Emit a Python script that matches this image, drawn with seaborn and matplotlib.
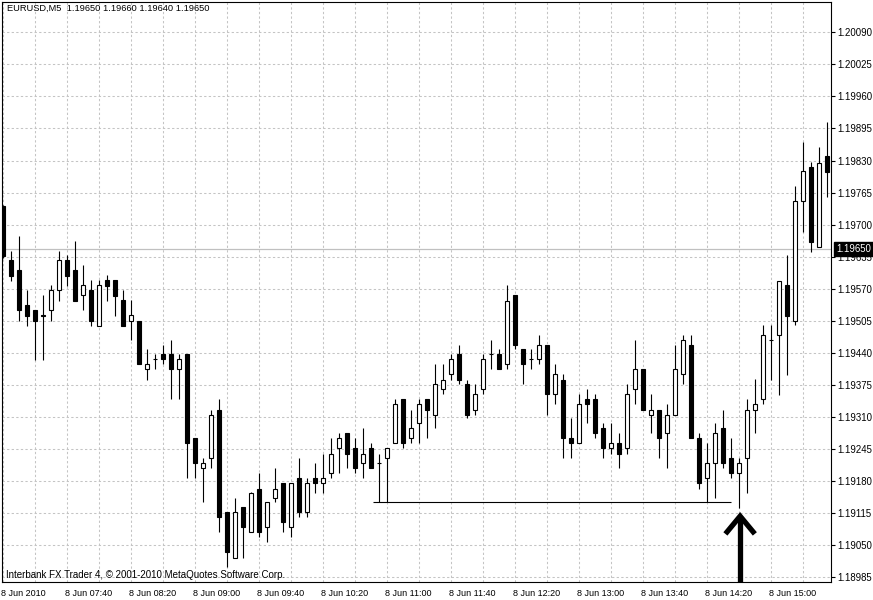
import matplotlib
matplotlib.use("Agg")
import numpy as np
import pandas as pd
import matplotlib.pyplot as plt
import matplotlib.transforms as mtransforms
import seaborn as sns

# header / footer texts
chart_title = "EURUSD,M5  1.19650 1.19660 1.19640 1.19650"
footer_text = "Interbank FX Trader 4, \u00a9 2001-2010 MetaQuotes Software Corp."

# M5 bars (bar 0 = 07:00)
opens = [1.19738, 1.19628, 1.19608, 1.19537, 1.19526, 1.19516, 1.19526, 1.19568, 1.19628, 1.19608,
         1.19557, 1.19568, 1.19495, 1.19588, 1.19588, 1.19547, 1.19505, 1.19505, 1.19407, 1.19427,
         1.19438, 1.19438, 1.19407, 1.19438, 1.19267, 1.19206, 1.19226, 1.19325, 1.19117, 1.19025,
         1.19127, 1.19076, 1.19165, 1.19086, 1.19145, 1.19176, 1.19086, 1.19186, 1.19117, 1.19186,
         1.19176, 1.19196, 1.19247, 1.19277, 1.19247, 1.19216, 1.19247, 1.19216, 1.19226, 1.19257,
         1.19346, 1.19267, 1.19297, 1.19346, 1.19315, 1.19366, 1.19397, 1.19437, 1.19376, 1.19325,
         1.19366, 1.19437, 1.19437, 1.19417, 1.19557, 1.19447, 1.19427, 1.19427, 1.19457, 1.19356,
         1.19386, 1.19267, 1.19257, 1.19346, 1.19346, 1.19287, 1.19247, 1.19257, 1.19247, 1.19366,
         1.19407, 1.19315, 1.19325, 1.19277, 1.19315, 1.19397, 1.19457, 1.19267, 1.19186, 1.19216,
         1.19287, 1.19226, 1.19196, 1.19226, 1.19325, 1.19346, 1.19467, 1.19477, 1.19578, 1.19505,
         1.19748, 1.19816, 1.19655, 1.19839]
highs = [1.19740, 1.19647, 1.19677, 1.19568, 1.19527, 1.19557, 1.19578, 1.19647, 1.19638, 1.19667,
         1.19618, 1.19588, 1.19588, 1.19598, 1.19588, 1.19568, 1.19547, 1.19505, 1.19447, 1.19438,
         1.19457, 1.19467, 1.19438, 1.19438, 1.19267, 1.19226, 1.19325, 1.19346, 1.19117, 1.19145,
         1.19127, 1.19157, 1.19196, 1.19137, 1.19206, 1.19176, 1.19176, 1.19226, 1.19186, 1.19216,
         1.19236, 1.19267, 1.19277, 1.19277, 1.19267, 1.19287, 1.19257, 1.19236, 1.19247, 1.19346,
         1.19346, 1.19325, 1.19346, 1.19346, 1.19417, 1.19417, 1.19437, 1.19457, 1.19386, 1.19376,
         1.19437, 1.19467, 1.19447, 1.19578, 1.19557, 1.19447, 1.19447, 1.19477, 1.19457, 1.19417,
         1.19397, 1.19307, 1.19356, 1.19366, 1.19356, 1.19297, 1.19297, 1.19277, 1.19376, 1.19467,
         1.19407, 1.19356, 1.19325, 1.19336, 1.19457, 1.19477, 1.19477, 1.19277, 1.19257, 1.19297,
         1.19325, 1.19267, 1.19226, 1.19346, 1.19388, 1.19497, 1.19497, 1.19586, 1.19638, 1.19778,
         1.19868, 1.19828, 1.19857, 1.19908]
lows = [1.19632, 1.19586, 1.19505, 1.19495, 1.19426, 1.19426, 1.19505, 1.19546, 1.19576, 1.19546,
        1.19526, 1.19495, 1.19495, 1.19546, 1.19515, 1.19495, 1.19466, 1.19417, 1.19386, 1.19407,
        1.19417, 1.19346, 1.19346, 1.19186, 1.19186, 1.19137, 1.19206, 1.19076, 1.19005, 1.19025,
        1.19025, 1.19076, 1.19066, 1.19056, 1.19137, 1.19076, 1.19066, 1.19107, 1.19107, 1.19155,
        1.19155, 1.19186, 1.19196, 1.19206, 1.19196, 1.19186, 1.19206, 1.19137, 1.19137, 1.19257,
        1.19247, 1.19257, 1.19257, 1.19267, 1.19287, 1.19356, 1.19386, 1.19376, 1.19307, 1.19315,
        1.19356, 1.19407, 1.19407, 1.19407, 1.19447, 1.19376, 1.19407, 1.19417, 1.19315, 1.19336,
        1.19226, 1.19226, 1.19257, 1.19297, 1.19267, 1.19226, 1.19236, 1.19206, 1.19236, 1.19336,
        1.19325, 1.19277, 1.19226, 1.19206, 1.19315, 1.19376, 1.19267, 1.19165, 1.19137, 1.19145,
        1.19206, 1.19186, 1.19125, 1.19155, 1.19277, 1.19336, 1.19386, 1.19355, 1.19396, 1.19497,
        1.19686, 1.19645, 1.19655, 1.19757]
closes = [1.19637, 1.19596, 1.19526, 1.19515, 1.19505, 1.19515, 1.19568, 1.19628, 1.19596, 1.19546,
          1.19577, 1.19505, 1.19577, 1.19576, 1.19556, 1.19495, 1.19516, 1.19417, 1.19417, 1.19427,
          1.19427, 1.19407, 1.19427, 1.19257, 1.19216, 1.19216, 1.19315, 1.19107, 1.19036, 1.19117,
          1.19086, 1.19155, 1.19076, 1.19137, 1.19165, 1.19097, 1.19176, 1.19117, 1.19176, 1.19176,
          1.19186, 1.19236, 1.19267, 1.19236, 1.19206, 1.19236, 1.19206, 1.19216, 1.19247, 1.19336,
          1.19257, 1.19287, 1.19336, 1.19325, 1.19376, 1.19386, 1.19427, 1.19386, 1.19315, 1.19356,
          1.19427, 1.19437, 1.19407, 1.19546, 1.19457, 1.19417, 1.19427, 1.19457, 1.19356, 1.19397,
          1.19267, 1.19257, 1.19336, 1.19336, 1.19277, 1.19247, 1.19257, 1.19236, 1.19356, 1.19407,
          1.19325, 1.19325, 1.19267, 1.19315, 1.19407, 1.19467, 1.19267, 1.19176, 1.19216, 1.19277,
          1.19216, 1.19196, 1.19216, 1.19325, 1.19336, 1.19477, 1.19467, 1.19586, 1.19515, 1.19748,
          1.19809, 1.19665, 1.19826, 1.19807]

# axis labels
time_labels = ["8 Jun 2010", "8 Jun 07:40", "8 Jun 08:20", "8 Jun 09:00", "8 Jun 09:40",
               "8 Jun 10:20", "8 Jun 11:00", "8 Jun 11:40", "8 Jun 12:20", "8 Jun 13:00",
               "8 Jun 13:40", "8 Jun 14:20", "8 Jun 15:00"]
price_ticks = [1.20090, 1.20025, 1.19960, 1.19895, 1.19830, 1.19765, 1.19700, 1.19635, 1.19570,
               1.19505, 1.19440, 1.19375, 1.19310, 1.19245, 1.19180, 1.19115, 1.19050, 1.18985]

# annotations drawn on the chart
last_price = 1.19650
support_level = 1.19137
support_from, support_to = 46.25, 90.9
arrow_bar = 92.1
arrow_tip = 1.19109
arrow_wing = 1.19073
arrow_half = 1.84

sns.set_style("white")
plt.rcParams['font.family'] = ['Liberation Sans', 'DejaVu Sans']

df = pd.DataFrame({'open': opens, 'high': highs, 'low': lows, 'close': closes})
df['bar'] = np.arange(len(df))
bull = df['close'] >= df['open']

fig = plt.figure(figsize=(8.73, 6), dpi=100)
ax = fig.add_axes([2 / 873, 18 / 600, 829 / 873, 580 / 600])

ymin, ymax = 1.189755, 1.201514
ax.set_xlim(-0.1625, 103.46)
ax.set_ylim(ymin, ymax)

# grid
grid_kw = dict(color='#c4c4c4', linestyle=(0, (2.2, 2.2)), linewidth=0.75)
ax.set_yticks(price_ticks)
ax.set_yticklabels([f"{p:.5f}" for p in price_ticks])
ax.set_xticks(np.arange(0, 104, 8))
ax.set_xticks(np.arange(4, 104, 8), minor=True)
ax.set_xticklabels(time_labels, ha='left')
ax.grid(True, which='both', **grid_kw)
ax.set_axisbelow(True)

ax.axhline(last_price, color='#c0c0c0', lw=0.9, zorder=1)

# candles
ax.vlines(df['bar'], df['low'], df['high'], color='black', lw=0.8, zorder=3)
body_bottom = df[['open', 'close']].min(axis=1)
body_height = (df['close'] - df['open']).abs()
ax.bar(df['bar'], body_height, bottom=body_bottom, width=0.5,
       color=np.where(bull, 'white', 'black'), edgecolor='black', linewidth=0.8, zorder=4)

# support line and arrow
ax.hlines(support_level, support_from, support_to, color='black', lw=0.8, zorder=5)
ax.plot([arrow_bar, arrow_bar], [ymin, arrow_tip], color='black', lw=3.8,
        solid_capstyle='butt', zorder=6)
ax.plot([arrow_bar - arrow_half, arrow_bar, arrow_bar + arrow_half],
        [arrow_wing, arrow_tip, arrow_wing], color='black', lw=3.8,
        solid_joinstyle='miter', solid_capstyle='butt', zorder=6)

# axes look
for side in ['left', 'right', 'top', 'bottom']:
    ax.spines[side].set_visible(True)
    ax.spines[side].set_color('black')
    ax.spines[side].set_linewidth(0.8)
ax.yaxis.tick_right()
ax.tick_params(axis='y', which='major', direction='out', length=3, width=0.8,
               pad=1.5, labelsize=6.9, colors='black')
ax.tick_params(axis='x', which='major', direction='out', length=3, width=0.8,
               pad=2, labelsize=6.5, colors='black')
ax.tick_params(axis='x', which='minor', length=0)
shift = mtransforms.ScaledTranslation(-2 / 100, 0, fig.dpi_scale_trans)
for lbl in ax.get_xticklabels():
    lbl.set_transform(lbl.get_transform() + shift)

# texts
ax.text(0.0057, 0.997, chart_title, transform=ax.transAxes, ha='left', va='top',
        fontsize=6.7, color='black', zorder=7)
ax.text(0.0048, 0.004, footer_text, transform=ax.transAxes, ha='left', va='bottom',
        fontsize=7.0, color='black', zorder=7)
trans = mtransforms.blended_transform_factory(ax.transAxes, ax.transData)
ax.text(1.006, last_price, f"{last_price:.5f}", transform=trans, ha='left', va='center',
        fontsize=6.9, color='white', clip_on=False, zorder=10,
        bbox=dict(boxstyle='square,pad=0.2', fc='black', ec='black'))

fig.savefig('out.png', dpi=100)
